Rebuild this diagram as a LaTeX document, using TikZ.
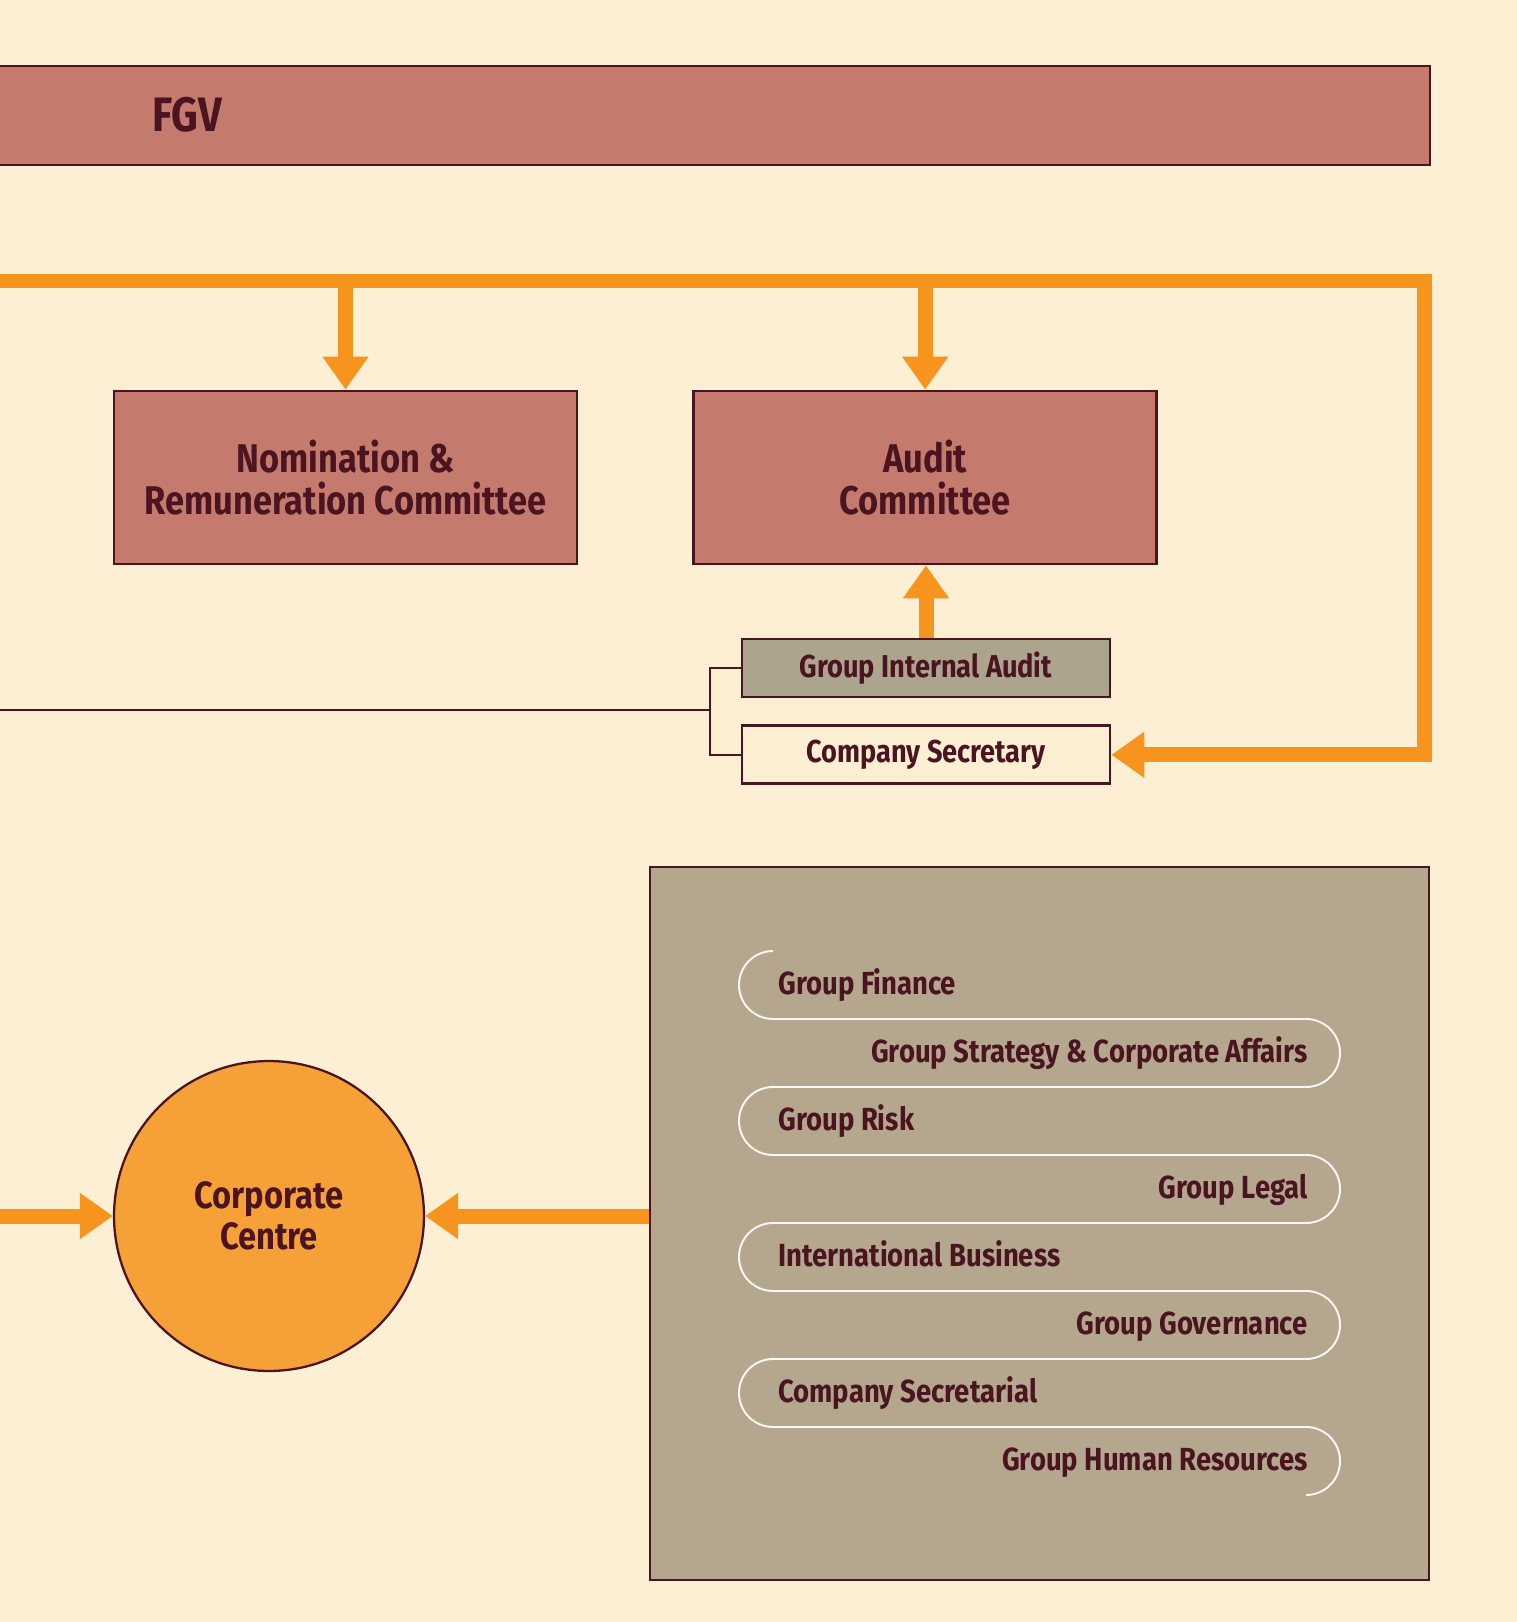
\documentclass[tikz,border=0pt]{standalone}
\usepackage{fontspec}
\setmainfont{Fira Sans}[FakeStretch=0.86]
\usepackage{xcolor}
\usetikzlibrary{positioning,arrows.meta}
\definecolor{FGVCream}{HTML}{FDEFD4}
\definecolor{FGVMaroon}{HTML}{4A1520}
\definecolor{FGVOrange}{HTML}{F7941E}
\definecolor{FGVRose}{HTML}{C47A6C}
\definecolor{FGVStone}{HTML}{B4A78E}
\definecolor{FGVGrey}{HTML}{ADA48D}
\definecolor{FGVSun}{HTML}{F6A138}

\begin{document}
\begin{tikzpicture}[
            x=0.02cm, y=-0.02cm,
            combox/.style={
                draw=FGVMaroon, line width=1.6pt, fill=FGVRose, align=center,
                minimum width=9.26cm, minimum height=3.46cm, text=FGVMaroon,
                font=\fontsize{22.8}{23.5}\selectfont\bfseries
            },
            unitbox/.style={
                draw=FGVMaroon, line width=1.6pt, minimum width=7.36cm,
                minimum height=1.16cm, text=FGVMaroon,
                font=\fontsize{18}{20}\selectfont\bfseries
            },
            feed/.style={draw=FGVOrange, line width=0.3cm, line join=miter,
                -{Triangle[length=0.66cm, width=0.88cm]}},
            link/.style={draw=FGVMaroon, line width=1.1pt},
            item/.style={font=\fontsize{18.2}{20}\selectfont\bfseries, text=FGVMaroon,
                inner sep=0pt, text height=.9em, text depth=.21em}
        ]
            \useasboundingbox (0,0) rectangle (1517,1622);
            \fill[FGVCream] (0,0) rectangle (1517,1622);

            % Board bar
            \fill[FGVRose, draw=FGVMaroon, line width=1.6pt] (-15,66) rectangle (1430,165);
            \node[anchor=west, text=FGVMaroon, font=\fontsize{27.5}{29}\selectfont\bfseries]
                (fgv) at (146,115) {FGV};

            % Committees
            \node[combox] (nom) at (345.5,477.5) {Nomination \&\\Remuneration Committee};
            \node[combox, right=2.28cm of nom] (aud) {Audit\\Committee};

            % Audit and secretary units
            \node[unitbox, fill=FGVGrey] (gia) at (926,668) {Group Internal Audit};
            \node[unitbox, fill=FGVCream, below=0.52cm of gia] (cosec) {Company Secretary};

            % Orange feed lines
            \coordinate (tl) at (0,281);
            \coordinate (tr) at (1424,281);
            \draw[feed] (tl) -- (tr) -- (tr |- cosec.east) -- (cosec.east);
            \draw[feed] (nom.north |- tl) -- (nom.north);
            \draw[feed] (aud.north |- tl) -- (aud.north);
            \draw[feed] (gia.north) -- (gia.north |- aud.south);

            % Thin bracket to the left
            \coordinate (lk) at (0,710);
            \coordinate (fork) at (710,710);
            \draw[link] (lk) -- (fork);
            \draw[link] (gia.west) -| (fork) |- (cosec.west);

            % Corporate centre
            \node[circle, draw=FGVMaroon, line width=1.3pt, fill=FGVSun, minimum size=6.2cm,
                align=center, text=FGVMaroon, font=\fontsize{21.6}{23}\selectfont\bfseries]
                (circ) at (269,1216) {Corporate\\Centre};

            % Functions panel
            \node[draw=FGVMaroon, line width=1.6pt, fill=FGVStone, minimum width=15.58cm,
                minimum height=14.26cm] (panel) at (1039.5,1223.5) {};
            \draw[white!92!FGVStone, line width=1.1pt, rounded corners=0.68cm]
                (773,951) -- (739,951) -- (739,1019) -- (1340,1019) -- (1340,1087)
                -- (739,1087) -- (739,1155) -- (1340,1155) -- (1340,1223)
                -- (739,1223) -- (739,1291) -- (1340,1291) -- (1340,1359)
                -- (739,1359) -- (739,1427) -- (1340,1427) -- (1340,1495) -- (1306,1495);
            \node[item, anchor=west] (fin) at (778,988) {Group Finance};
            \node[item, anchor=east] (strat) at (1308,1056) {Group Strategy \& Corporate Affairs};
            \node[item, anchor=west] (risk) at (778,1124) {Group Risk};
            \node[item, anchor=east] (legal) at (1308,1192) {Group Legal};
            \node[item, anchor=west] (intl) at (778,1260) {International Business};
            \node[item, anchor=east] (gov) at (1308,1328) {Group Governance};
            \node[item, anchor=west] (csec) at (778,1396) {Company Secretarial};
            \node[item, anchor=east] (hr) at (1308,1464) {Group Human Resources};

            % Arrows into the centre
            \coordinate (le) at (0,1216);
            \draw[feed] (le) -- (circ.west);
            \draw[feed] (circ.east -| panel.west) -- (circ.east);
        \end{tikzpicture}
\end{document}
